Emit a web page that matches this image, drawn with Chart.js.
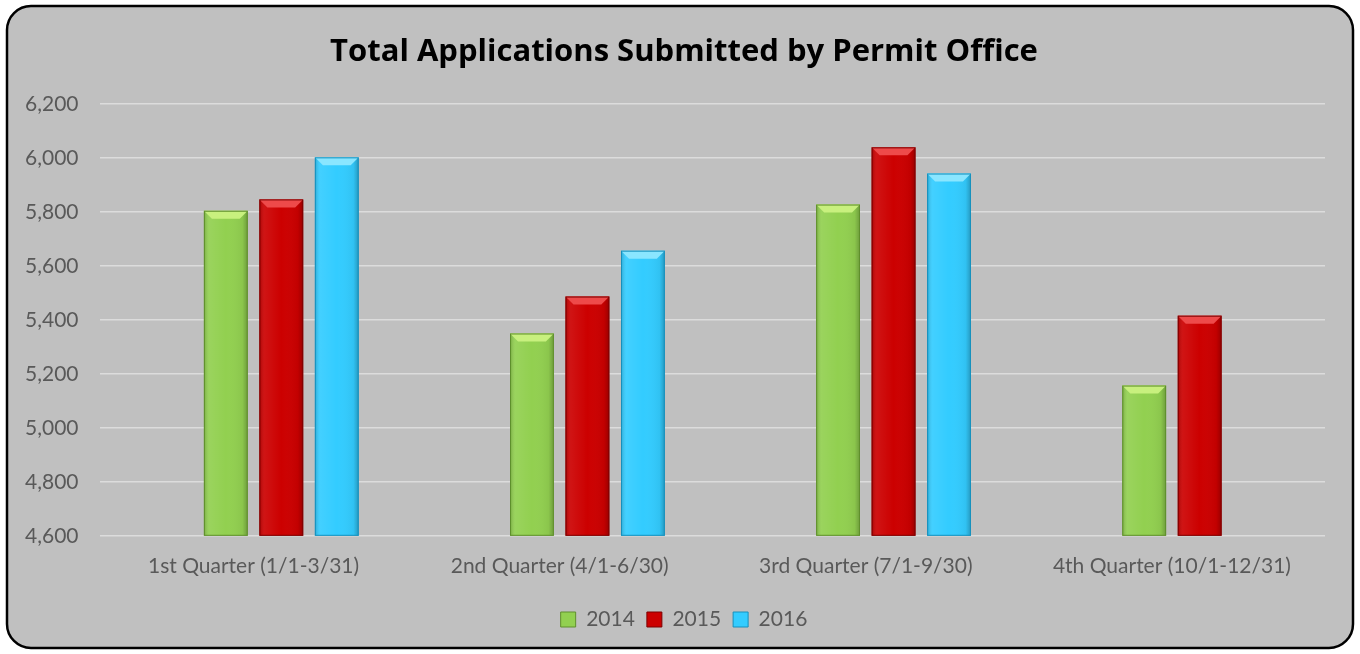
<!DOCTYPE html>
<html>
<head>
<meta charset="utf-8">
<script src="https://cdn.jsdelivr.net/npm/chart.js@4.4.1/dist/chart.umd.min.js"></script>
<style>
  html, body { margin: 0; padding: 0; background: #ffffff; }
  #wrap { width: 1360px; height: 654px; position: relative; }
</style>
</head>
<body>
<div id="wrap"><canvas id="permitChart"></canvas></div>
<script>
const quarters = ['1st Quarter (1/1-3/31)', '2nd Quarter (4/1-6/30)', '3rd Quarter (7/1-9/30)', '4th Quarter (10/1-12/31)'];
const years = ['2014', '2015', '2016'];
const apps2014 = [5805, 5350, 5828, 5157];
const apps2015 = [5847, 5487, 6040, 5416];
const apps2016 = [6003, 5657, 5943, null];
const spacer = [null, null, null, null]; // empty series slot, Excel leaves room for it

const yMin = 4600, yMax = 6200, yStep = 200;

const palette = {
    '2014': { base: '#92d050', light: '#c8f07e', dark: '#5f8f2c' },
    '2015': { base: '#cc0000', light: '#ee4a4a', dark: '#7d0000' },
    '2016': { base: '#33ccff', light: '#8ae6ff', dark: '#1690bd' }
};

// rounded frame behind the chart
const framePlugin = {
    id: 'frame',
    beforeDraw(chart) {
        const c = chart.ctx;
        const x = 7, y = 6, w = chart.width - 14, h = chart.height - 12, r = 24;
        c.save();
        c.beginPath();
        c.roundRect(x, y, w, h, r);
        c.fillStyle = '#c0c0c0';
        c.fill();
        c.lineWidth = 2.5;
        c.strokeStyle = '#000000';
        c.stroke();
        c.restore();
    }
};

// title and legend sit centred on the whole frame, not on the padded box
const centerPlugin = {
    id: 'centerBlocks',
    afterLayout(chart) {
        [chart.titleBlock, chart.legend].forEach(box => {
            if (!box) return;
            box.left += 20;
            box.right += 20;
        });
    }
};

// bevel look on top of each bar
const bevelPlugin = {
    id: 'bevel',
    afterDatasetsDraw(chart) {
        const c = chart.ctx;
        const area = chart.chartArea;
        chart.data.datasets.forEach((ds, di) => {
            const col = palette[ds.label];
            if (!col) return;
            chart.getDatasetMeta(di).data.forEach((bar, i) => {
                if (ds.data[i] == null) return;
                const p = bar.getProps(['x', 'y', 'base', 'width'], true);
                const left = p.x - p.width / 2, right = p.x + p.width / 2;
                const top = p.y, bottom = Math.min(p.base, area.bottom), b = 8;
                c.save();
                // side shading
                const g = c.createLinearGradient(left, 0, right, 0);
                g.addColorStop(0, 'rgba(0,0,0,0.18)');
                g.addColorStop(0.12, 'rgba(255,255,255,0.08)');
                g.addColorStop(0.5, 'rgba(255,255,255,0)');
                g.addColorStop(0.88, 'rgba(0,0,0,0.05)');
                g.addColorStop(1, 'rgba(0,0,0,0.25)');
                c.fillStyle = g;
                c.fillRect(left, top, p.width, bottom - top);
                // top bevel
                c.beginPath();
                c.moveTo(left, top);
                c.lineTo(right, top);
                c.lineTo(right - b, top + b);
                c.lineTo(left + b, top + b);
                c.closePath();
                c.fillStyle = col.light;
                c.fill();
                // outline
                c.lineWidth = 1;
                c.strokeStyle = col.dark;
                c.strokeRect(left + 0.5, top + 0.5, p.width - 1, bottom - top - 1);
                c.restore();
            });
        });
    }
};

function makeSet(label, values) {
    return {
        label: label,
        data: values,
        backgroundColor: palette[label].base,
        borderWidth: 0,
        barPercentage: 0.79,
        categoryPercentage: 0.725
    };
}

new Chart(document.getElementById('permitChart'), {
    type: 'bar',
    data: {
        labels: quarters,
        datasets: [
            { label: '', data: spacer, backgroundColor: 'rgba(0,0,0,0)', barPercentage: 0.79, categoryPercentage: 0.725 },
            makeSet('2014', apps2014),
            makeSet('2015', apps2015),
            makeSet('2016', apps2016)
        ]
    },
    options: {
        responsive: true,
        maintainAspectRatio: false,
        animation: false,
        devicePixelRatio: 1,
        layout: { padding: { left: 3, right: 35, top: 18, bottom: 14 } },
        plugins: {
            title: {
                display: true,
                text: 'Total Applications Submitted by Permit Office',
                color: '#000000',
                font: { family: 'Open Sans', size: 31, weight: 'bold' },
                padding: { top: 16, bottom: 33 }
            },
            legend: {
                position: 'bottom',
                labels: {
                    color: '#595959',
                    font: { family: 'Lato', size: 21 },
                    boxWidth: 15,
                    boxHeight: 15,
                    padding: 12,
                    filter: item => item.text !== '',
                    generateLabels(chart) {
                        return chart.data.datasets.map((ds, i) => ({
                            text: ds.label,
                            fillStyle: palette[ds.label] ? palette[ds.label].base : 'transparent',
                            strokeStyle: palette[ds.label] ? palette[ds.label].dark : 'transparent',
                            lineWidth: 1,
                            fontColor: '#595959',
                            datasetIndex: i
                        }));
                    }
                }
            },
            tooltip: { enabled: false }
        },
        scales: {
            x: {
                grid: { display: false, drawTicks: false },
                border: { display: false },
                ticks: { color: '#595959', font: { family: 'Lato', size: 21 }, padding: 18 }
            },
            y: {
                min: yMin,
                max: yMax,
                ticks: {
                    stepSize: yStep,
                    color: '#595959',
                    font: { family: 'Lato', size: 21 },
                    padding: 22,
                    callback: v => v.toLocaleString('en-US')
                },
                grid: { color: '#dcdcdc', lineWidth: 1.5, drawTicks: false },
                border: { display: false }
            }
        }
    },
    plugins: [framePlugin, centerPlugin, bevelPlugin]
});
</script>
</body>
</html>
